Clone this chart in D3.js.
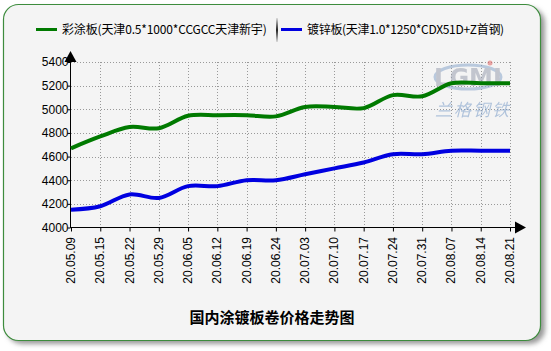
<!DOCTYPE html>
<html><head><meta charset="utf-8">
<script src="https://cdn.jsdelivr.net/npm/d3@7"></script>
<style>body{margin:0;background:#fff;}svg{display:block;}</style>
</head><body>
<script>
const categories = ["20.05.09","20.05.15","20.05.22","20.05.29","20.06.05","20.06.12","20.06.19","20.06.24","20.07.03","20.07.10","20.07.17","20.07.24","20.07.31","20.08.07","20.08.14","20.08.21"];
const seriesNames = ["彩涂板(天津0.5*1000*CCGCC天津新宇)","镀锌板(天津1.0*1250*CDX51D+Z首钢)"];
const coatedValues = [4670,4770,4850,4840,4945,4950,4950,4940,5020,5020,5010,5120,5110,5220,5220,5220];
const galvValues = [4150,4180,4280,4250,4350,4350,4400,4400,4450,4500,4550,4620,4620,4650,4650,4650];
const yTicks = [4000,4200,4400,4600,4800,5000,5200,5400];
const title = "国内涂镀板卷价格走势图";
const colors = ["#007a00","#0000e0"];

const W=551,H=351;
const svg=d3.select("body").append("svg").attr("width",W).attr("height",H);
const defs=svg.append("defs");
const f=defs.append("filter").attr("id","sh").attr("x","-5%").attr("y","-5%").attr("width","115%").attr("height","115%");
f.append("feGaussianBlur").attr("stdDeviation",2.5);
const g=defs.append("linearGradient").attr("id","sep").attr("x1",0).attr("x2",0).attr("y1",0).attr("y2",1);
g.append("stop").attr("offset","0%").attr("stop-color","#ddd");
g.append("stop").attr("offset","50%").attr("stop-color","#222");
g.append("stop").attr("offset","100%").attr("stop-color","#ddd");

svg.append("rect").attr("x",7).attr("y",8).attr("width",538).attr("height",336).attr("rx",15)
  .attr("fill","#999").attr("filter","url(#sh)");
svg.append("rect").attr("x",3.5).attr("y",4.5).attr("width",537).attr("height",336).attr("rx",15)
  .attr("fill","#f4f4f4").attr("stroke","#3d8c3d").attr("stroke-width",1.2);

const x=d3.scalePoint().domain(categories).range([71,510]);
const y=d3.scaleLinear().domain([4000,5400]).range([227.5,62]);

// grid
const grid=svg.append("g").attr("stroke","#999").attr("stroke-dasharray","1,2").attr("stroke-width",1);
yTicks.forEach(t=>{ if(t>4000) grid.append("line").attr("x1",71).attr("x2",510).attr("y1",Math.round(y(t))+0.5).attr("y2",Math.round(y(t))+0.5);});
categories.forEach((c,i)=>{ if(i>0) grid.append("line").attr("x1",Math.round(x(c))+0.5).attr("x2",Math.round(x(c))+0.5).attr("y1",62).attr("y2",227.5);});

// watermark
const wm=svg.append("g").attr("opacity",0.55);
wm.append("ellipse").attr("cx",468).attr("cy",77).attr("rx",33).attr("ry",12).attr("fill","none").attr("stroke","#8aa6cc").attr("stroke-width",3);
wm.append("text").attr("x",468).attr("y",86).attr("text-anchor","middle").attr("font-family","Arial Black, DejaVu Sans").attr("font-weight","bold").attr("font-size",24).attr("fill","#9aa0b0").text("LGMI");
wm.append("circle").attr("cx",490).attr("cy",63).attr("r",2.5).attr("fill","#e06060");
wm.append("text").attr("x",473).attr("y",116).attr("text-anchor","middle").attr("font-family","Noto Sans CJK SC").attr("font-size",17).attr("font-style","italic").attr("fill","#7a9cc8").attr("letter-spacing",2).text("兰格钢铁");

// axes
const ax=d3.axisBottom(x).tickSize(4).tickFormat("");
const xg=svg.append("g").attr("transform","translate(0,227.5)").call(ax);
xg.select(".domain").remove();
xg.selectAll("line").attr("stroke","#000");
svg.append("line").attr("x1",70.5).attr("x2",517).attr("y1",227.5).attr("y2",227.5).attr("stroke","#000");
svg.append("path").attr("d","M515,221.5 L526,227.5 L515,233.5 Z").attr("fill","#000");
svg.append("line").attr("x1",70.5).attr("x2",70.5).attr("y1",58).attr("y2",228).attr("stroke","#000");
svg.append("path").attr("d","M64.5,62 L70.5,51 L76.5,62 Z").attr("fill","#000");
const yg=svg.append("g").attr("transform","translate(70.5,0)").call(d3.axisLeft(y).tickValues(yTicks).tickSize(3).tickFormat(d3.format("d")));
yg.select(".domain").remove();
yg.selectAll("line").attr("stroke","#000");
yg.selectAll("text").attr("font-family","Arial, Liberation Sans").attr("font-size",12).attr("fill","#000").attr("x",-2);

svg.append("g").selectAll("text").data(categories).join("text")
  .attr("transform",d=>`translate(${x(d)+4},237) rotate(-90)`)
  .attr("text-anchor","end").attr("font-family","Arial, Liberation Sans").attr("font-size",12).attr("fill","#000").text(d=>d);

// lines
const line=d3.line().x((d,i)=>x(categories[i])).y(d=>y(d)).curve(d3.curveCatmullRom.alpha(0.5));
[coatedValues,galvValues].forEach((vals,k)=>{
  svg.append("path").attr("d",line(vals)).attr("fill","none").attr("stroke",colors[k]).attr("stroke-width",4).attr("stroke-linejoin","round");
});

// legend
svg.append("line").attr("x1",36).attr("x2",57).attr("y1",29.5).attr("y2",29.5).attr("stroke",colors[0]).attr("stroke-width",3);
svg.append("text").attr("x",62).attr("y",34).attr("font-family","Noto Sans CJK SC").attr("font-size",12).attr("letter-spacing",-0.15).attr("fill","#000").text(seriesNames[0]);
svg.append("rect").attr("x",276).attr("y",18).attr("width",2).attr("height",24).attr("fill","url(#sep)");
svg.append("line").attr("x1",281).attr("x2",302).attr("y1",29.5).attr("y2",29.5).attr("stroke",colors[1]).attr("stroke-width",3);
svg.append("text").attr("x",307).attr("y",34).attr("font-family","Noto Sans CJK SC").attr("font-size",12).attr("letter-spacing",-0.3).attr("fill","#000").text(seriesNames[1]);

svg.append("text").attr("x",272).attr("y",323).attr("text-anchor","middle").attr("font-family","Noto Sans CJK SC").attr("font-weight","bold").attr("font-size",15).attr("fill","#000").text(title);
</script>
</body></html>
